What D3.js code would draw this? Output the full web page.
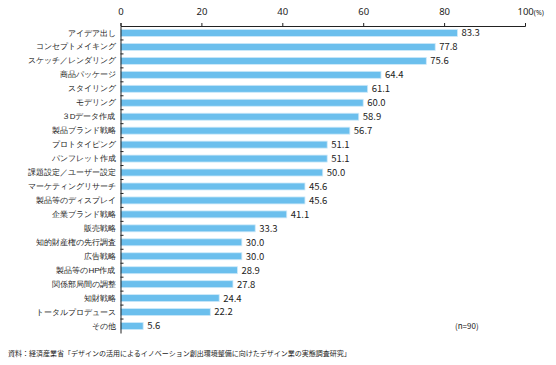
<!DOCTYPE html>
<html><head><meta charset="utf-8">
<script src="https://cdn.jsdelivr.net/npm/d3@7"></script>
<style>
html,body{margin:0;padding:0;background:#fff;}
svg{display:block;font-family:"Noto Sans CJK JP","Noto Sans",sans-serif;}
</style></head>
<body><svg id="c" width="556" height="365"></svg>
<script>
const categories = ["アイデア出し","コンセプトメイキング","スケッチ／レンダリング","商品パッケージ","スタイリング","モデリング","３Dデータ作成","製品ブランド戦略","プロトタイピング","パンフレット作成","課題設定／ユーザー設定","マーケティングリサーチ","製品等のディスプレイ","企業ブランド戦略","販売戦略","知的財産権の先行調査","広告戦略","製品等のHP作成","関係部局間の調整","知財戦略","トータルプロデュース","その他"];
const values = [83.3,77.8,75.6,64.4,61.1,60.0,58.9,56.7,51.1,51.1,50.0,45.6,45.6,41.1,33.3,30.0,30.0,28.9,27.8,24.4,22.2,5.6];
const xTicks = [0,20,40,60,80,100];
const note = "(n=90)";
const source = "資料：経済産業省「デザインの活用によるイノベーション創出環境整備に向けたデザイン業の実態調査研究」";

const svg = d3.select("#c");
const x = d3.scaleLinear().domain([0,100]).range([120.5,525]);
const y = d3.scaleBand().domain(categories).range([26,333]).paddingInner(0.5).paddingOuter(0.25);
const step = y.step();

// bars
svg.append("g").selectAll("rect").data(values).join("rect")
  .attr("x", x(0)).attr("y",(d,i)=>y(categories[i]))
  .attr("width", d=>x(d)-x(0)).attr("height", y.bandwidth())
  .attr("fill","#6bbfed").attr("stroke","#cde9f9").attr("stroke-width",0.8);

// value labels
svg.append("g").selectAll("text").data(values).join("text")
  .attr("x", d=>x(d)+4).attr("y",(d,i)=>y(categories[i])+y.bandwidth()/2)
  .attr("dy","0.36em").attr("font-size",9.5).attr("fill","#222")
  .text(d=>d.toFixed(1));

// top axis
const ax = svg.append("g").attr("transform","translate(0,26)")
  .call(d3.axisTop(x).tickValues(xTicks).tickSize(3).tickPadding(8).tickFormat(d=>d));
ax.select(".domain").attr("stroke","#222");
ax.selectAll(".tick line").attr("stroke","#222");
ax.selectAll(".tick text").attr("font-size",9.5).attr("fill","#222")
  .attr("font-family","Noto Sans, sans-serif");
ax.selectAll(".tick").filter(d=>d===100).select("text")
  .text(null).call(t=>{t.append("tspan").text("100");t.append("tspan").attr("font-size",7).text("(%)");})
  .attr("text-anchor","start").attr("dx","-8");

// left axis
const ay = svg.append("g").attr("transform",`translate(${x(0)},0)`)
  .call(d3.axisLeft(y).tickSize(0).tickPadding(5));
ay.select(".domain").attr("stroke","#222");
ay.selectAll(".tick text").attr("font-size",8).attr("fill","#222");
// separator ticks between categories (inward)
svg.append("g").selectAll("line").data(categories.slice(1)).join("line")
  .attr("x1",x(0)).attr("x2",x(0)+3)
  .attr("y1",d=>y(d)-step*y.paddingInner()/2).attr("y2",d=>y(d)-step*y.paddingInner()/2)
  .attr("stroke","#222");

svg.append("text").attr("x",455).attr("y",329).attr("font-size",8).attr("fill","#222").text(note);
svg.append("text").attr("x",8).attr("y",356).attr("font-size",7).attr("fill","#222").text(source);
</script></body></html>
